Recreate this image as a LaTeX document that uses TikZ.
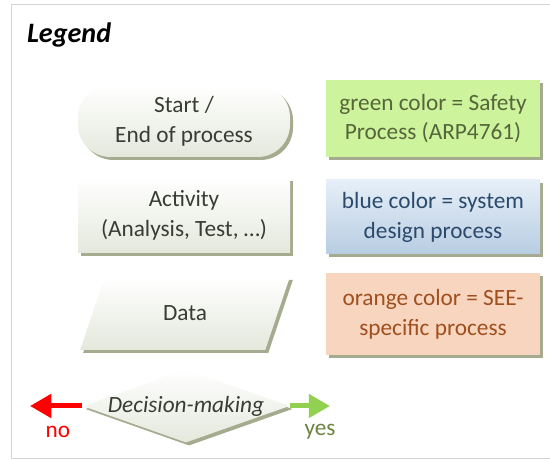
\documentclass[tikz,border=0pt]{standalone}
\usepackage{fontspec}
\setmainfont{Carlito}
\usetikzlibrary{arrows.meta,shapes.geometric,shadows}

\definecolor{framegray}{HTML}{D4D4D4}
\definecolor{shadowgreen}{HTML}{A5AB8E}
\definecolor{greyfill}{HTML}{E4E8DC}
\definecolor{greytext}{HTML}{383D33}
\definecolor{safetyfill}{HTML}{CDF39C}
\definecolor{safetytext}{HTML}{56663A}
\definecolor{designtop}{HTML}{E6EFF8}
\definecolor{designbottom}{HTML}{B8CDE2}
\definecolor{designtext}{HTML}{2B4A6C}
\definecolor{seefill}{HTML}{F8D5BE}
\definecolor{seetext}{HTML}{A0501E}
\definecolor{yesgreen}{HTML}{92D050}
\definecolor{yestext}{HTML}{6F8240}

\newcommand{\boxfont}{\fontsize{26.5}{34}\selectfont}
\newcommand{\titlefont}{\fontsize{32}{36}\selectfont\bfseries\itshape}

\begin{document}
\begin{tikzpicture}[
	shadowed/.style={drop shadow={shadow xshift=.12cm, shadow yshift=-.12cm, fill=shadowgreen, opacity=1}},
	shapebox/.style={shadowed, shading=axis, top color=white, bottom color=greyfill,
		text=greytext, font=\boxfont, align=center, inner sep=0pt, minimum width=8.48cm},
	colorbox/.style={shadowed, font=\boxfont, align=center, inner sep=0pt,
		minimum width=8.56cm},
	decision/.style={diamond, shadowed, shading=axis, top color=white, bottom color=greyfill,
		inner sep=0pt, minimum width=8.28cm, minimum height=2.92cm},
	datashape/.style={trapezium, trapezium stretches=true, trapezium left angle=66,
		trapezium right angle=114},
	arrowhead/.style={-{Triangle[length=.85cm, width=.92cm]}, line width=.2cm},
	]
	\useasboundingbox (0,0) rectangle (22,18.4);
	% frame round the legend
	\draw[framegray, line width=.04cm] (22.4,18.2) -- (.44,18.2) -- (.44,.04) -- (22.4,.04);
	\node[anchor=base west, font=\titlefont] (legend) at (.96,16.7) {Legend};

	% flowchart symbols
	\node[shapebox, rounded corners=1.3cm, minimum height=2.88cm] (startend) at (7.36,13.56)
		{Start /\\End of process};
	\node[shapebox, minimum height=3cm] (activity) at (7.36,9.78)
		{Activity\\(Analysis, Test, \dots)};
	\node[shapebox, datashape, minimum width=8.4cm, minimum height=2.92cm] (data) at (7.4,5.86)
		{Data};
	\node[decision, label={[font=\boxfont\itshape, text=greytext]center:Decision-making}]
		(dec) at (7.44,2.16) {};

	% colour key
	\node[colorbox, fill=safetyfill, text=safetytext, minimum height=3.08cm] (safety)
		at (17.32,13.66) {green color = Safety\\Process (ARP4761)};
	\node[colorbox, shading=axis, top color=designtop, bottom color=designbottom,
		text=designtext, minimum height=2.96cm] (design) at (17.32,9.72)
		{blue color = system\\design process};
	\node[colorbox, fill=seefill, text=seetext, minimum height=3.28cm] (see)
		at (17.32,5.84) {orange color = SEE-\\specific process};

	% decision outcomes
	\coordinate (noend) at (1.2,2.16);
	\coordinate (yesend) at (13.2,2.16);
	\draw[arrowhead, red] (dec.west) -- (noend);
	\draw[arrowhead, yesgreen] (dec.east) -- (yesend);
	\node[font=\boxfont, text=red] (no) at (2.32,1.12) {no};
	\node[font=\boxfont, text=yestext] (yes) at (12.8,1.12) {yes};
\end{tikzpicture}
\end{document}
